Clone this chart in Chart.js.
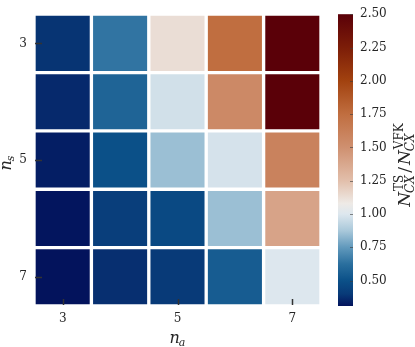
<!DOCTYPE html>
<html><head><meta charset="utf-8">
<script src="https://cdn.jsdelivr.net/npm/chart.js@4/dist/chart.umd.min.js"></script>
<style>html,body{margin:0;padding:0;background:#fff}#wrap{width:415px;height:347px}</style>
</head><body><div id="wrap"><canvas id="c" width="415" height="347"></canvas></div>
<script>
// ---- data ----
const naLabels = ['3', '4', '5', '6', '7'];
const nsValues = [3, 4, 5, 6, 7];
const ratioNs3 = [0.385, 0.64, 1.13, 1.75, 2.5];
const ratioNs4 = [0.36, 0.58, 0.97, 1.55, 2.5];
const ratioNs5 = [0.335, 0.50, 0.85, 0.98, 1.60];
const ratioNs6 = [0.315, 0.42, 0.47, 0.85, 1.40];
const ratioNs7 = [0.31, 0.375, 0.40, 0.55, 1.00];
const ratioRows = [ratioNs3, ratioNs4, ratioNs5, ratioNs6, ratioNs7];
const xTickShown = ['3', '5', '7'];
const yTickValues = [3, 5, 7];
const cbTickValues = [0.5, 0.75, 1.0, 1.25, 1.5, 1.75, 2.0, 2.25, 2.5];
const cbMin = 0.31, cbMax = 2.5;

// ---- colormap (value -> colour) ----
const cmapVals = [0.31, 0.40, 0.50, 0.625, 0.75, 0.875, 1.00, 1.08, 1.25, 1.50, 1.75, 2.00, 2.25, 2.50];
const cmapCols = ['#03135c', '#083a78', '#0b5088', '#2a6f9e', '#6199bc', '#a9c8da', '#dde7ee', '#eeeae6', '#e2bfab', '#cf9070', '#c06e40', '#a2420f', '#7c1d08', '#5a0008'];

function hex2rgb(h) { return [parseInt(h.slice(1,3),16), parseInt(h.slice(3,5),16), parseInt(h.slice(5,7),16)]; }
function cmap(v) {
  v = Math.max(cmapVals[0], Math.min(cmapVals[cmapVals.length-1], v));
  for (let i = 0; i < cmapVals.length - 1; i++) {
    if (v <= cmapVals[i+1]) {
      const t = (v - cmapVals[i]) / (cmapVals[i+1] - cmapVals[i]);
      const a = hex2rgb(cmapCols[i]), b = hex2rgb(cmapCols[i+1]);
      const c = a.map((x, k) => Math.round(x + (b[k] - x) * t));
      return `rgb(${c[0]},${c[1]},${c[2]})`;
    }
  }
  return cmapCols[cmapCols.length-1];
}

const SERIF = '"DejaVu Serif", "Liberation Serif", serif';

const datasets = nsValues.map((ns, r) => ({
  label: 'n_s=' + ns,
  data: naLabels.map((na, c) => ({ x: na, y: [ns - 0.5, ns + 0.5], v: ratioRows[r][c] })),
  backgroundColor: ctx => cmap(ctx.raw.v),
  borderColor: '#ffffff',
  borderWidth: 2,
  borderSkipped: false,
  grouped: false,
  barPercentage: 1,
  categoryPercentage: 1
}));

function layoutMath(ctx, groups) {
  let x = 0; const ops = [];
  for (const g of groups) {
    if (g.padL) x += g.padL;
    ctx.font = g.base.f;
    ops.push({ t: g.base.t, f: g.base.f, x, dy: 0 });
    x += ctx.measureText(g.base.t).width;
    let w = 0;
    if (g.sup) { ctx.font = g.sup.f; ops.push({ t: g.sup.t, f: g.sup.f, x: x + 1, dy: -g.sup.s }); w = Math.max(w, ctx.measureText(g.sup.t).width + 1); }
    if (g.sub) { ctx.font = g.sub.f; ops.push({ t: g.sub.t, f: g.sub.f, x: x - 1, dy: g.sub.s }); w = Math.max(w, ctx.measureText(g.sub.t).width - 1); }
    x += w;
    if (g.padR) x += g.padR;
  }
  return { ops, width: x };
}
function drawMath(ctx, groups, px, py, angle) {
  const L = layoutMath(ctx, groups);
  ctx.save();
  ctx.translate(px, py);
  ctx.rotate(angle);
  ctx.fillStyle = '#262626';
  ctx.textBaseline = 'alphabetic';
  ctx.textAlign = 'left';
  for (const o of L.ops) { ctx.font = o.f; ctx.fillText(o.t, o.x - L.width / 2, o.dy); }
  ctx.restore();
}

const decor = {
  id: 'decor',
  afterDraw(chart) {
    const ctx = chart.ctx;
    const xs = chart.scales.x, ys = chart.scales.y, cb = chart.scales.cb;
    const area = chart.chartArea;
    ctx.save();
    // inward tick marks
    ctx.strokeStyle = '#333333';
    ctx.lineWidth = 1.5;
    naLabels.forEach((l, i) => {
      if (!xTickShown.includes(l)) return;
      const px = Math.round(xs.getPixelForValue(i)) + 0.5;
      ctx.beginPath(); ctx.moveTo(px, area.bottom - 1); ctx.lineTo(px, area.bottom - 7); ctx.stroke();
    });
    yTickValues.forEach(v => {
      const py = Math.round(ys.getPixelForValue(v)) + 0.5;
      ctx.beginPath(); ctx.moveTo(area.left + 1, py); ctx.lineTo(area.left + 8, py); ctx.stroke();
    });
    // colour bar
    const cbL = cb.left + 17, cbW = 15;
    const top = cb.getPixelForValue(cbMax), bot = cb.getPixelForValue(cbMin);
    const g = ctx.createLinearGradient(0, bot, 0, top);
    cmapVals.forEach((v, i) => g.addColorStop((v - cbMin) / (cbMax - cbMin), cmapCols[i]));
    ctx.fillStyle = g;
    ctx.fillRect(cbL, top, cbW, bot - top);
    ctx.strokeStyle = 'rgba(60,60,60,0.6)';
    ctx.lineWidth = 1;
    cbTickValues.forEach(v => {
      const py = Math.round(cb.getPixelForValue(v)) + 0.5;
      ctx.beginPath(); ctx.moveTo(cbL + cbW - 3, py); ctx.lineTo(cbL + cbW, py); ctx.stroke();
    });
    ctx.restore();
    // axis titles
    const big = 'italic 16px ' + SERIF, small = 'italic 11px ' + SERIF;
    drawMath(ctx, [{ base: { t: 'n', f: big }, sub: { t: 'a', f: small, s: 3 } }], (area.left + area.right) / 2, 343, 0);
    drawMath(ctx, [{ base: { t: 'n', f: big }, sub: { t: 's', f: small, s: 3 } }], 11, (area.top + area.bottom) / 2 + 3, -Math.PI / 2);
    const N = 'italic 17px ' + SERIF, sI = 'italic 12px ' + SERIF, sU = '12px ' + SERIF;
    drawMath(ctx, [
      { base: { t: 'N', f: N }, sub: { t: 'CX', f: sI, s: 4 }, sup: { t: 'TS', f: sU, s: 7 } },
      { base: { t: '/', f: '17px ' + SERIF }, padL: 2, padR: 2 },
      { base: { t: 'N', f: N }, sub: { t: 'CX', f: sI, s: 4 }, sup: { t: 'VFK', f: sU, s: 7 } }
    ], 410, 165, -Math.PI / 2);
  }
};

new Chart(document.getElementById('c'), {
  type: 'bar',
  data: { labels: naLabels, datasets },
  plugins: [decor],
  options: {
    responsive: false,
    animation: false,
    devicePixelRatio: 1,
    layout: { autoPadding: false, padding: { top: 6, left: 0, right: 0, bottom: 0 } },
    plugins: { legend: { display: false }, tooltip: { enabled: false } },
    scales: {
      x: {
        type: 'category',
        grid: { display: false, drawTicks: false },
        border: { display: false },
        ticks: {
          autoSkip: false, maxRotation: 0, padding: 6, color: '#262626',
          font: { family: SERIF, size: 12 },
          callback: function (val) { const l = this.getLabelForValue(val); return xTickShown.includes(l) ? l : ''; }
        },
        afterFit: s => { s.height = 41; }
      },
      y: {
        type: 'linear', min: 2.5, max: 7.5, reverse: true,
        grid: { display: false, drawTicks: false },
        border: { display: false },
        afterBuildTicks: a => { a.ticks = yTickValues.map(v => ({ value: v })); },
        ticks: { autoSkip: false, padding: 7, color: '#262626', font: { family: SERIF, size: 12 } },
        afterFit: s => { s.width = 34; }
      },
      cb: {
        type: 'linear', position: 'right', min: cbMin, max: cbMax,
        grid: { display: false, drawTicks: true, tickLength: 32 },
        border: { display: false },
        afterBuildTicks: a => { a.ticks = cbTickValues.map(v => ({ value: v })); },
        ticks: { autoSkip: false, padding: 7, color: '#262626', font: { family: SERIF, size: 12 }, callback: v => Number(v).toFixed(2) },
        afterFit: s => { s.width = 94; }
      }
    }
  }
});
</script>
</body></html>
